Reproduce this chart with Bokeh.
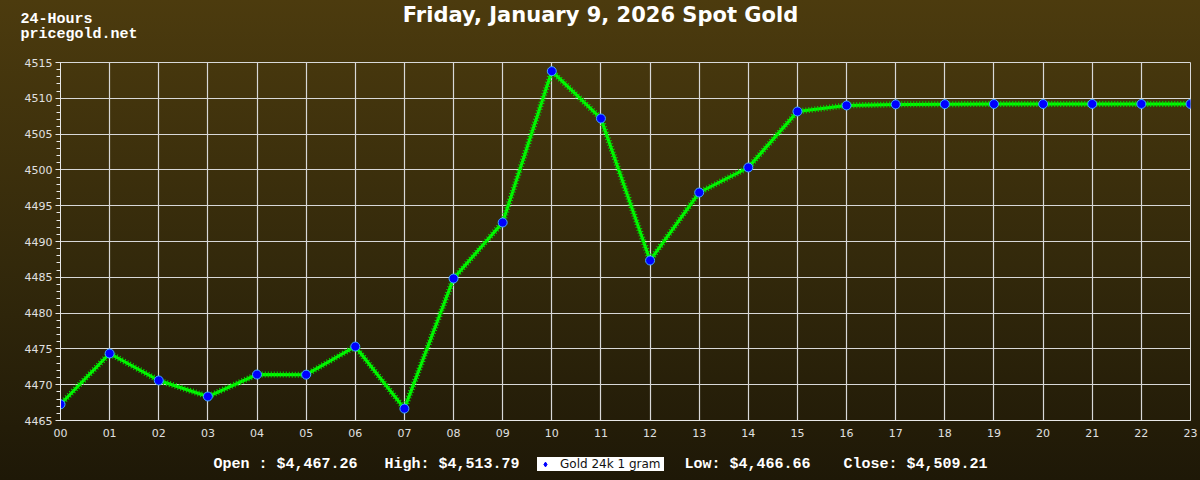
from bokeh.plotting import figure
from bokeh.layouts import column
from bokeh.models import (FixedTicker, Label, Legend, LegendItem, ColumnDataSource)
from bokeh.embed import file_html
from bokeh.resources import INLINE

hours = [f"{h:02d}" for h in range(24)]
prices = [4467.26, 4474.36, 4470.59, 4468.35, 4471.42, 4471.40, 4475.33, 4466.66,
          4484.83, 4492.65, 4513.79, 4507.18, 4487.35, 4496.84, 4500.34, 4508.16,
          4509.00, 4509.15, 4509.18, 4509.20, 4509.20, 4509.21, 4509.21, 4509.21]
y_ticks = list(range(4465, 4516, 5))
y_minor = list(range(4465, 4516, 1))
title_text = "Friday, January 9, 2026 Spot Gold"
corner_lines = ["24-Hours", "pricegold.net"]
stats = ["Open : $4,467.26", "High: $4,513.79", "Low: $4,466.66", "Close: $4,509.21"]
series_name = "Gold 24k 1 gram"

W = 1200


def strip(height):
    f = figure(width=W, height=height, output_backend="svg", toolbar_location=None,
               x_range=(0, 1), y_range=(0, 1), x_axis_location=None, y_axis_location=None,
               min_border=0, min_border_left=0, min_border_right=0, min_border_top=0,
               min_border_bottom=0)
    f.frame_align = False
    f.grid.visible = False
    f.outline_line_color = None
    f.border_fill_color = None
    f.background_fill_color = None
    return f


x = list(range(24))
src = ColumnDataSource(dict(x=x, y=prices))

# header
head = strip(50)
head.add_layout(Label(x=600, y=36, x_units="screen", y_units="screen", text=title_text,
                      text_align="center", text_baseline="middle", text_font="DejaVu Sans",
                      text_font_style="bold", text_font_size="21px", text_color="white"))
for t, ys in zip(corner_lines, [31, 16]):
    head.add_layout(Label(x=20, y=ys, x_units="screen", y_units="screen", text=t,
                          text_align="left", text_baseline="middle", text_font="Liberation Mono",
                          text_font_style="bold", text_font_size="15px", text_color="white"))

# main chart
p = figure(width=W, height=390, output_backend="svg", toolbar_location=None,
           x_range=(0, 23), y_range=(4465, 4515),
           min_border_left=60, min_border_right=10, min_border_top=12, min_border_bottom=20)
p.border_fill_color = None
p.background_fill_color = None
p.outline_line_color = "#d8d8d8"
p.outline_line_width = 1

p.xaxis.ticker = FixedTicker(ticks=x)
p.xaxis.major_label_overrides = {i: h for i, h in enumerate(hours)}
p.yaxis.ticker = FixedTicker(ticks=y_ticks, minor_ticks=y_minor)

for ax in (p.xaxis, p.yaxis):
    ax.axis_line_color = "#e8e8e8"
    ax.major_label_text_color = "#e0e0e0"
    ax.major_label_text_font = "DejaVu Sans"
    ax.major_label_text_font_size = "11px"
    ax.major_tick_line_color = "#e8e8e8"
    ax.minor_tick_line_color = "#e8e8e8"
    ax.major_tick_in = 0
    ax.minor_tick_in = 0
p.yaxis.major_tick_out = 5
p.yaxis.minor_tick_out = 4
p.yaxis.major_label_standoff = 3
p.xaxis.major_tick_out = 0
p.xaxis.minor_tick_out = 0
p.xaxis.major_label_standoff = 8

p.xgrid.grid_line_color = "#d8d8d8"
p.ygrid.grid_line_color = "#d8d8d8"
p.xgrid.grid_line_width = 1.2
p.ygrid.grid_line_width = 1.2

p.line("x", "y", source=src, line_color="#00ff00", line_width=3)
p.line("x", "y", source=src, line_color="#00e000", line_width=6, line_dash="1 2")
p.scatter("x", "y", source=src, size=9, fill_color="#0000ff", line_color="#3fa9ff", line_width=1)

# footer
foot = strip(40)
for t, xs in zip(stats, [213, 384, 684, 843]):
    foot.add_layout(Label(x=xs, y=16, x_units="screen", y_units="screen", text=t,
                          text_align="left", text_baseline="middle", text_font="Liberation Mono",
                          text_font_style="bold", text_font_size="15px", text_color="white"))
# series swatch for the legend (its points fall outside this strip's ranges)
legend_r = foot.scatter("x", "y", source=src, marker="diamond", size=7, fill_color="#0000ff",
                        line_color="#0000ff")
legend = Legend(items=[LegendItem(label=series_name, renderers=[legend_r])],
                location=(537, 9), background_fill_color="white",
                background_fill_alpha=1, border_line_color=None, label_text_font="DejaVu Sans",
                label_text_font_size="12px", label_text_color="#111111", glyph_width=16,
                glyph_height=12, padding=1, label_standoff=7, label_width=104, margin=0)
foot.add_layout(legend, "center")

page = column(head, p, foot, spacing=0)
page.styles = {"background": "linear-gradient(to bottom, #4c3b0e 0%, #33290b 55%, #1e1807 100%)"}

open("out.html", "w").write(file_html(page, INLINE))
